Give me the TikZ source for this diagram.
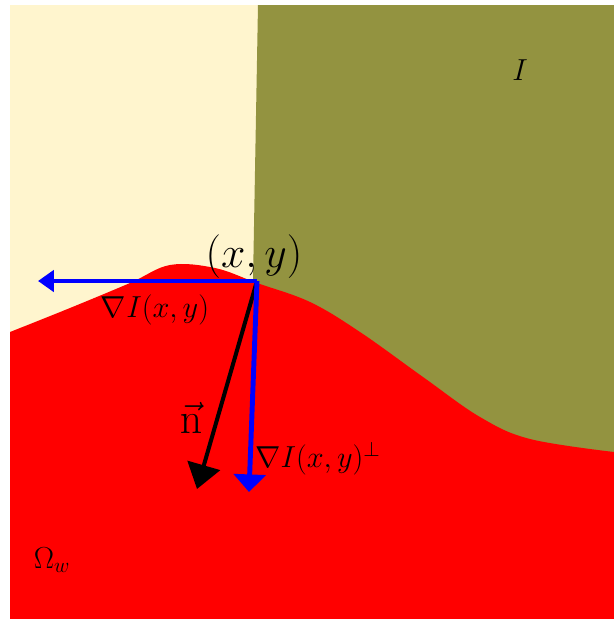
\documentclass[tikz,border=0pt]{standalone}
\usepackage{amsmath}
\usepackage{amssymb}
\usetikzlibrary{arrows.meta}
\definecolor{regred}{RGB}{255, 0, 0}
\definecolor{regolive}{RGB}{147, 147, 64}
\definecolor{regcream}{RGB}{255, 245, 206}
\definecolor{gradblue}{RGB}{0, 0, 255}
\tikzset{
  lbl/.style={inner sep=0pt, font=\fontsize{17}{20}\selectfont},
  biglbl/.style={inner sep=0pt, font=\fontsize{26}{30}\selectfont},
  gradarrow/.style={draw=gradblue, line width=2.8pt},
  normarrow/.style={draw=black, line width=2.3pt, -{Triangle[length=14pt, width=19pt]}},
}

\begin{document}
\begin{tikzpicture}[x=0.02cm, y=-0.02cm]
  \useasboundingbox (0,0) rectangle (614,619);
  \fill[white] (0,0) rectangle (614,619);
  % regions
  \fill[regcream] (10,5) rectangle (260,360);
  \fill[regolive] (258,5) -- (614,5) -- (614,470) -- (253,470) -- (253,282) -- cycle;
  \fill[regred] plot[smooth, tension=0.6] coordinates {(10,332) (70,308) (130,283)
      (170,265) (215,268) (257,283) (310,302) (360,332) (423,377) (480,417)
      (530,439) (614,452)}
    -- (614,619) -- (10,619) -- cycle;

  % point and vectors
  \coordinate (xy) at (257,281);
  \coordinate (gtip) at (38,281);
  \coordinate (ptip) at (249,492);
  \coordinate (ntip) at (197,489);
  \draw[normarrow] (xy) -- (ntip);
  \draw[gradarrow, -{Triangle[length=9pt, width=12pt]}] (xy) -- (gtip);
  \draw[gradarrow, -{Triangle[length=10pt, width=18pt]}] (xy) -- (ptip);

  % labels
  \node[biglbl] (xylbl) at (254,257) {$(x,y)$};
  \node[lbl, font=\fontsize{18.5}{22}\selectfont] (gradlbl) at (155,310) {$\nabla I(x,y)$};
  \node[biglbl] (nlbl) at (191,418) {$\vec{\mathrm{n}}$};
  \node[lbl] (perplbl) at (318,458) {$\nabla I(x,y)^{\perp}$};
  \node[lbl] (imglbl) at (520,70) {$I$};
  \node[lbl] (omlbl) at (52,560) {$\Omega_w$};
\end{tikzpicture}
\end{document}
